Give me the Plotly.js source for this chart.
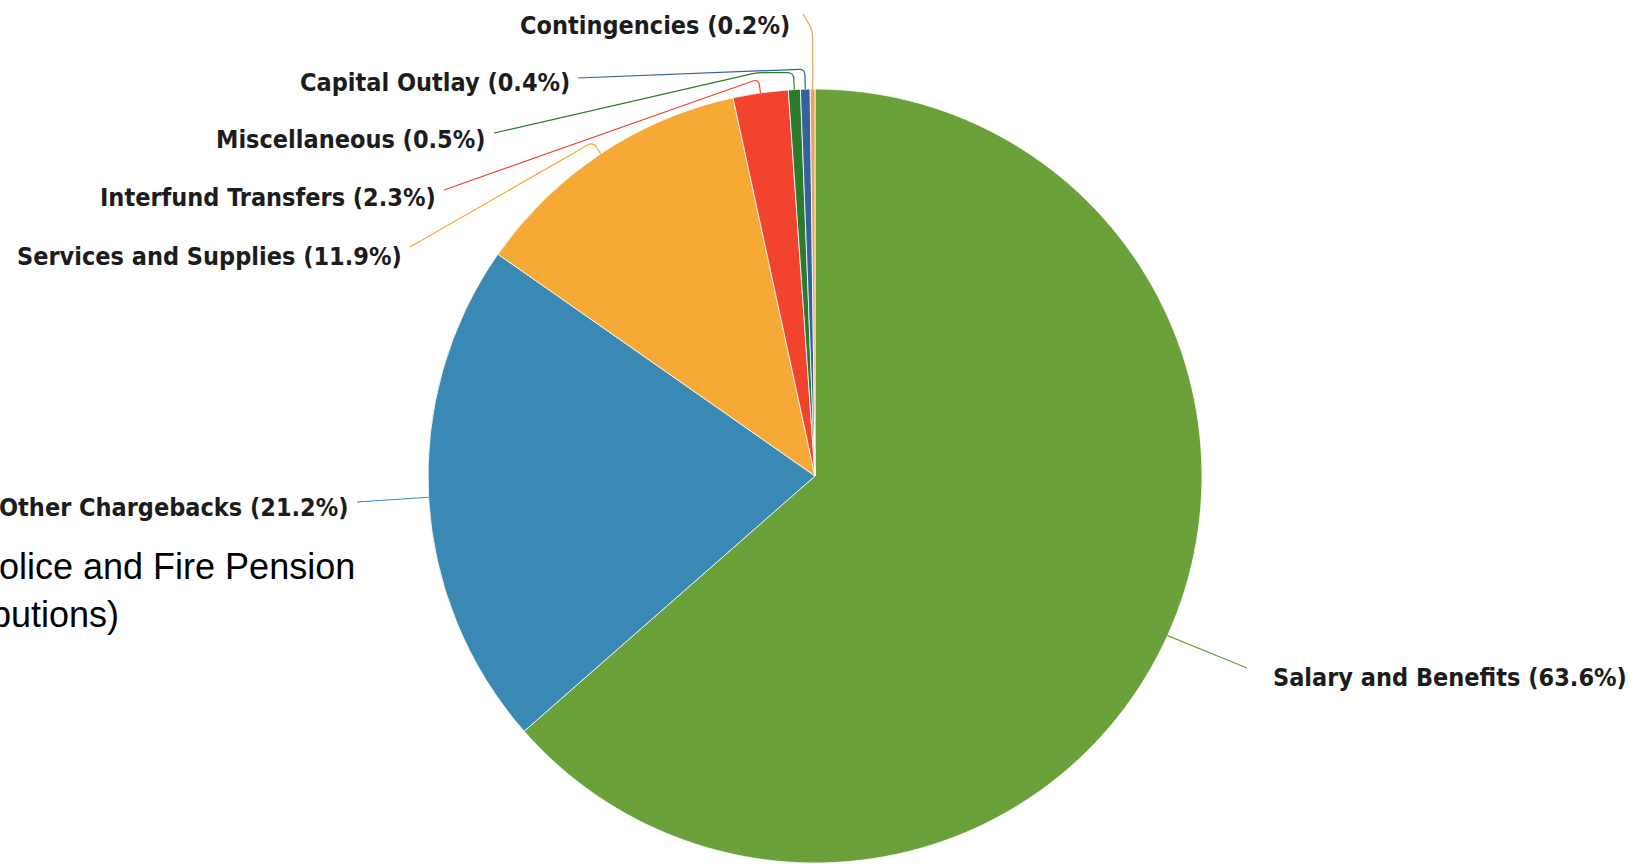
<!DOCTYPE html>
<html>
<head>
<meta charset="utf-8">
<script src="https://cdn.plot.ly/plotly-3.0.1.min.js"></script>
<style>
  html, body { margin: 0; padding: 0; background: #ffffff; }
  #chart { width: 1645px; height: 864px; }
</style>
</head>
<body>
<div id="chart"></div>
<script>
// ---- data ----
const categories = [
  "Salary and Benefits",
  "Other Chargebacks",
  "Services and Supplies",
  "Interfund Transfers",
  "Miscellaneous",
  "Capital Outlay",
  "Contingencies"
];
const percentValues = [63.6, 21.2, 11.9, 2.3, 0.5, 0.4, 0.2];
const noteLines = ["olice and Fire Pension", "butions)"];

// ---- styles / layout settings ----
const sliceColors = ["#6aa13a", "#3a89b5", "#f6a934", "#f2432f", "#2c7a2c", "#35609c", "#e8a262"];
const W = 1645, H = 864;
const pieCenter = { x: 815, y: 476 }, pieRadius = 387;

// label placement (pixel layout) per slice
const labelPlacement = [
  { x: 1271, y: 677, anchor: "left",  end: [1247, 668], bends: [] },
  { x: 351,  y: 508, anchor: "right", end: [357, 502],  bends: [] },
  { x: 404,  y: 256, anchor: "right", end: [410, 247],  bends: [{ r: 14 }] },
  { x: 438,  y: 197, anchor: "right", end: [444, 190],  bends: [{ r: 14 }] },
  { x: 488,  y: 139, anchor: "right", end: [494, 133],  bends: [{ r: 17 }, { dx: -36 }] },
  { x: 572,  y: 83,  anchor: "right", end: [578, 78],   bends: [{ r: 20 }] },
  { x: 792,  y: 25,  anchor: "right", end: [803, 14],   bends: [{ yAbs: 30 }] }
];

const px2x = x => x / W;
const px2y = y => 1 - y / H;

const total = percentValues.reduce((a, b) => a + b, 0);
let cum = 0;
const annotations = [];
const shapes = [];

function roundedPath(pts, rad) {
  let d = "M" + px2x(pts[0][0]) + "," + px2y(pts[0][1]);
  for (let i = 1; i < pts.length; i++) {
    const B = pts[i];
    if (i < pts.length - 1) {
      const A = pts[i - 1], C = pts[i + 1];
      const la = Math.hypot(A[0] - B[0], A[1] - B[1]);
      const lc = Math.hypot(C[0] - B[0], C[1] - B[1]);
      const rr = Math.min(rad, la / 2, lc / 2);
      const B1 = [B[0] + (A[0] - B[0]) / la * rr, B[1] + (A[1] - B[1]) / la * rr];
      const B2 = [B[0] + (C[0] - B[0]) / lc * rr, B[1] + (C[1] - B[1]) / lc * rr];
      d += " L" + px2x(B1[0]) + "," + px2y(B1[1]);
      d += " Q" + px2x(B[0]) + "," + px2y(B[1]) + " " + px2x(B2[0]) + "," + px2y(B2[1]);
    } else {
      d += " L" + px2x(B[0]) + "," + px2y(B[1]);
    }
  }
  return d;
}

percentValues.forEach((v, i) => {
  const mid = (cum + v / 2) / total;
  cum += v;
  const th = 2 * Math.PI * mid;
  const at = r => [pieCenter.x + r * Math.sin(th), pieCenter.y - r * Math.cos(th)];
  const lp = labelPlacement[i];
  const P = at(pieRadius);
  const pts = [P];
  let last = P;
  lp.bends.forEach(b => {
    let q;
    if (b.r !== undefined) q = at(pieRadius + b.r);
    else if (b.dx !== undefined) q = [last[0] + b.dx, last[1]];
    else q = [last[0], b.yAbs];
    pts.push(q);
    last = q;
  });
  pts.push(lp.end);
  shapes.push({
    type: "path", xref: "paper", yref: "paper",
    path: roundedPath(pts, 6),
    line: { color: sliceColors[i], width: 1.2 }
  });
  annotations.push({
    xref: "paper", yref: "paper",
    x: px2x(lp.x), y: px2y(lp.y),
    xanchor: lp.anchor, yanchor: "middle",
    showarrow: false,
    text: categories[i] + " (" + v + "%)",
    font: { family: "DejaVu Sans Condensed, DejaVu Sans, sans-serif", size: 25, color: "#1c1c1c", weight: "bold" }
  });
});

// note text (partially cut at left edge, as in the reference)
annotations.push({
  xref: "paper", yref: "paper", x: px2x(357), y: px2y(566),
  xanchor: "right", yanchor: "middle", showarrow: false,
  text: noteLines[0],
  font: { family: "Liberation Sans, Arial, sans-serif", size: 36, color: "#000000" }
});
annotations.push({
  xref: "paper", yref: "paper", x: px2x(121), y: px2y(614),
  xanchor: "right", yanchor: "middle", showarrow: false,
  text: noteLines[1],
  font: { family: "Liberation Sans, Arial, sans-serif", size: 36, color: "#000000" }
});

const trace = {
  type: "pie",
  labels: categories,
  values: percentValues,
  sort: false,
  direction: "clockwise",
  rotation: 0,
  textinfo: "none",
  hoverinfo: "label+percent",
  marker: { colors: sliceColors, line: { color: "#ffffff", width: 0.8 } },
  domain: {
    x: [(pieCenter.x - pieRadius) / W, (pieCenter.x + pieRadius) / W],
    y: [1 - (pieCenter.y + pieRadius) / H, 1 - (pieCenter.y - pieRadius) / H]
  },
  showlegend: false
};

const layout = {
  width: W, height: H,
  margin: { l: 0, r: 0, t: 0, b: 0 },
  paper_bgcolor: "#ffffff",
  plot_bgcolor: "#ffffff",
  showlegend: false,
  annotations: annotations,
  shapes: shapes
};

Plotly.newPlot("chart", [trace], layout, { displayModeBar: false, staticPlot: true });
</script>
</body>
</html>
